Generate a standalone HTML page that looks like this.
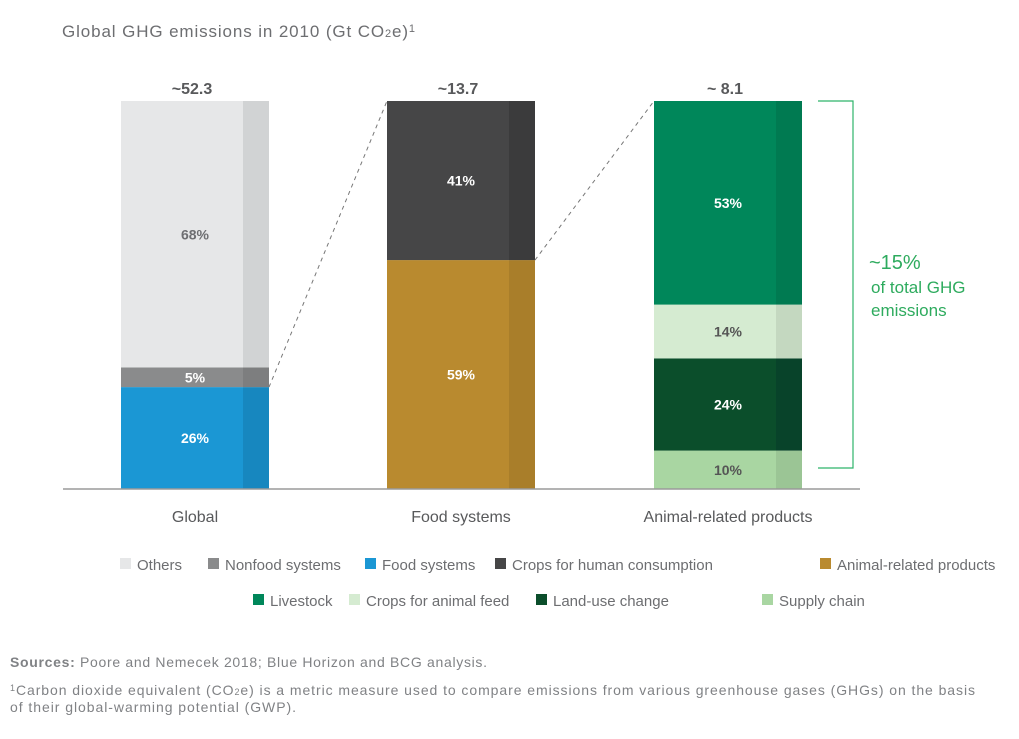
<!DOCTYPE html>
<html><head><meta charset="utf-8"><style>
body{margin:0;background:#fff;font-family:"Liberation Sans",sans-serif;}
svg text{font-family:"Liberation Sans",sans-serif;}
</style></head><body>
<svg width="1019" height="734" viewBox="0 0 1019 734">
<text x="62" y="37" font-size="17" fill="#6d6e71" textLength="353" lengthAdjust="spacing">Global GHG emissions in 2010 (Gt CO<tspan font-size="11">2</tspan>e)<tspan font-size="11" dy="-5">1</tspan></text>
<g id="bars"></g>
<line x1="63" y1="489" x2="860" y2="489" stroke="#9a9a9a" stroke-width="1.5"/>
<path d="M818 101 H853 V468 H818" fill="none" stroke="#2eb36a" stroke-width="1.2"/>
<g fill="#2eab5e">
<text x="869" y="269" font-size="20">~15%</text>
<text x="871" y="293" font-size="17">of total GHG</text>
<text x="871" y="316" font-size="17">emissions</text>
</g>
<g id="legend" font-size="15" fill="#6d6e71"></g>
<text x="10" y="667" font-size="14" fill="#808285" textLength="477" lengthAdjust="spacing"><tspan font-weight="bold">Sources:</tspan> Poore and Nemecek 2018; Blue Horizon and BCG analysis.</text>
<text x="10" y="695" font-size="14" fill="#808285" textLength="965" lengthAdjust="spacing"><tspan font-size="9" dy="-4">1</tspan><tspan dy="4">Carbon dioxide equivalent (CO</tspan><tspan font-size="9">2</tspan>e) is a metric measure used to compare emissions from various greenhouse gases (GHGs) on the basis</text>
<text x="10" y="712" font-size="14" fill="#808285" textLength="286" lengthAdjust="spacing">of their global-warming potential (GWP).</text>
</svg>
<script>
const categories=["Global","Food systems","Animal-related products"];
const totals=["~52.3","~13.7","~ 8.1"];
const globalValues=[26,5,68];
const foodValues=[59,41];
const animalValues=[10,24,14,53];
const seriesNames=[["Food systems","Nonfood systems","Others"],["Animal-related products","Crops for human consumption"],["Supply chain","Land-use change","Crops for animal feed","Livestock"]];
const colors={"Others":["#e6e7e8","#d1d3d4","#6d6e71"],"Nonfood systems":["#8a8b8c","#7d7e7f","#fff"],"Food systems":["#1b97d4","#1787bf","#fff"],"Crops for human consumption":["#464647","#3b3b3c","#fff"],"Animal-related products":["#b98a2f","#a97e2a","#fff"],"Livestock":["#00875a","#007a51","#fff"],"Crops for animal feed":["#d5ebd1","#c4d8c0","#555"],"Land-use change":["#0b4e2b","#08432a","#fff"],"Supply chain":["#a9d6a2","#9bc595","#555"]};
const ns="http://www.w3.org/2000/svg";
const g=document.getElementById("bars");
const barX=[121,387,654],barW=148,strip=26,top0=101,base=489;
const allVals=[globalValues,foodValues,animalValues];
function mk(t,a){const e=document.createElementNS(ns,t);for(const k in a)e.setAttribute(k,a[k]);return e;}
const segs=[];
allVals.forEach((vals,i)=>{
 const sum=vals.reduce((a,b)=>a+b,0);let y=base;segs.push([]);
 vals.forEach((v,j)=>{
  const h=(base-top0)*v/sum;y-=h;const c=colors[seriesNames[i][j]];
  const r=mk("rect",{x:barX[i],y:y,width:barW-strip,height:h,fill:c[0]});
  
  
  g.appendChild(r);
  const r2=mk("rect",{x:barX[i]+barW-strip,y:y,width:strip,height:h,fill:c[1]});
  
  
  g.appendChild(r2);
  segs[i].push(y);
  const t=mk("text",{x:barX[i]+barW/2,y:y+h/2+5,"font-size":14,"font-weight":"bold","text-anchor":"middle",fill:c[2]});
  t.textContent=v+"%";
  
  
  g.appendChild(t);
 });
 const tt=mk("text",{x:barX[i]+barW/2-3,y:94,"font-size":16,"font-weight":"bold","text-anchor":"middle",fill:"#58595b"});
 tt.textContent=totals[i];
 
 
 g.appendChild(tt);
 const cl=mk("text",{x:barX[i]+barW/2,y:522,"font-size":16,"text-anchor":"middle",fill:"#58595b"});
 cl.textContent=categories[i];
 
 
 g.appendChild(cl);
});
[[0,1],[1,2]].forEach(([a,b])=>{
 const l=mk("line",{x1:barX[a]+barW,y1:segs[a][0],x2:barX[b],y2:top0,stroke:"#777","stroke-dasharray":"4 4","stroke-width":1});
 
 
 g.appendChild(l);
});
const legend=[["Others",120,570],["Nonfood systems",208,570],["Food systems",365,570],["Crops for human consumption",495,570],["Animal-related products",820,570],["Livestock",253,606],["Crops for animal feed",349,606],["Land-use change",536,606],["Supply chain",762,606]];
const lg=document.getElementById("legend");
legend.forEach(([n,x,y])=>{
 const s=mk("rect",{x:x,y:y-12,width:11,height:11,fill:colors[n][0]});
 
 
 lg.appendChild(s);
 const t=mk("text",{x:x+17,y:y});t.textContent=n;
 
 
 lg.appendChild(t);
});
</script>
</body></html>
